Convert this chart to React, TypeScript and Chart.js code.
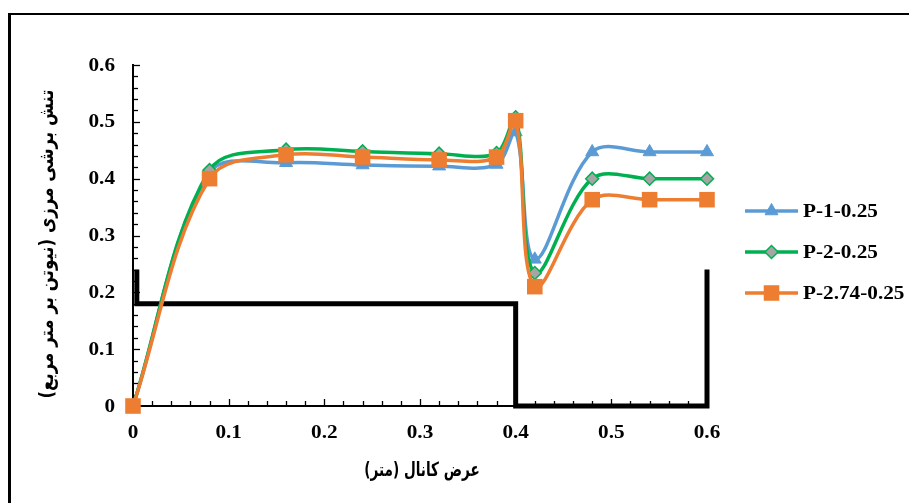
import React, { useEffect, useRef } from "react";
import { Chart, registerables } from "chart.js";

Chart.register(...registerables);

// ---- data ----
const xPositions = [0, 0.08, 0.16, 0.24, 0.32, 0.38, 0.4, 0.42, 0.48, 0.54, 0.6];
const seriesP1 = [0, 0.41, 0.428, 0.424, 0.422, 0.425, 0.482, 0.258, 0.447, 0.447, 0.447];
const seriesP2 = [0, 0.415, 0.451, 0.448, 0.444, 0.445, 0.508, 0.234, 0.4, 0.4, 0.4];
const seriesP274 = [0, 0.4, 0.442, 0.438, 0.433, 0.438, 0.502, 0.21, 0.363, 0.363, 0.363];
const profileX = [0.004, 0.004, 0.4, 0.4, 0.6, 0.6];
const profileY = [0.24, 0.18, 0.18, 0, 0, 0.24];
const seriesNames = ["P-1-0.25", "P-2-0.25", "P-2.74-0.25"];
const xTickValues = [0, 0.1, 0.2, 0.3, 0.4, 0.5, 0.6];
const xTickLabels = ["0", "0.1", "0.2", "0.3", "0.4", "0.5", "0.6"];
const yTickValues = [0, 0.1, 0.2, 0.3, 0.4, 0.5, 0.6];
const yTickLabels = ["0", "0.1", "0.2", "0.3", "0.4", "0.5", "0.6"];
const xTitle = "عرض کانال (متر)";
const yTitle = "تنش برشی مرزی (نیوتن بر متر مربع)";

const BLUE = "#5B9BD5";
const GREEN = "#00B050";
const ORANGE = "#ED7D31";
const GRAY = "#A5A5A5";
const SX = 1.18;
const LATIN_FONT = 'bold 18px "Liberation Serif", "Times New Roman", serif';
const ARABIC_FONT = 'bold 17px "DejaVu Sans", "Liberation Serif", serif';

function drawText(ctx: CanvasRenderingContext2D, s: string, x: number, y: number, align: CanvasTextAlign, font: string, sx: number) {
  ctx.save();
  ctx.translate(x, y);
  ctx.scale(sx, 1);
  ctx.font = font;
  ctx.fillStyle = "#000";
  ctx.textAlign = align;
  ctx.textBaseline = "middle";
  ctx.fillText(s, 0, 0);
  ctx.restore();
}

function drawMarker(ctx: CanvasRenderingContext2D, style: string, x: number, y: number, r: number, fill: string, stroke: string, bw: number) {
  ctx.save();
  ctx.beginPath();
  if (style === "triangle") {
    const h = r * 1.5;
    const half = r * Math.sqrt(3) / 2;
    ctx.moveTo(x, y - r);
    ctx.lineTo(x + half, y - r + h);
    ctx.lineTo(x - half, y - r + h);
    ctx.closePath();
  } else if (style === "rectRot") {
    ctx.moveTo(x, y - r);
    ctx.lineTo(x + r, y);
    ctx.lineTo(x, y + r);
    ctx.lineTo(x - r, y);
    ctx.closePath();
  } else {
    const s = r * Math.SQRT1_2;
    ctx.rect(x - s, y - s, 2 * s, 2 * s);
  }
  ctx.fillStyle = fill;
  ctx.fill();
  if (bw > 0) {
    ctx.lineWidth = bw;
    ctx.strokeStyle = stroke;
    ctx.stroke();
  }
  ctx.restore();
}

const decorPlugin = {
  id: "decor",
  beforeDatasetsDraw(chart: any) {
    const ctx: CanvasRenderingContext2D = chart.ctx;
    const xs = chart.scales.x;
    const ys = chart.scales.y;
    const area = chart.chartArea;
    ctx.save();
    // outer frame
    ctx.fillStyle = "#000";
    ctx.fillRect(8, 13, 3, 503);
    ctx.fillRect(8, 13, 909, 2);
    // inside ticks
    ctx.strokeStyle = "#000";
    ctx.lineWidth = 1.3;
    const isMajor = (v: number) => Math.abs(v * 10 - Math.round(v * 10)) < 1e-6;
    xs.ticks.forEach((t: any) => {
      const px = Math.round(xs.getPixelForValue(t.value)) + 0.5;
      const len = isMajor(t.value) ? 7 : 5;
      ctx.beginPath();
      ctx.moveTo(px, area.bottom);
      ctx.lineTo(px, area.bottom - len);
      ctx.stroke();
    });
    ys.ticks.forEach((t: any) => {
      const py = Math.round(ys.getPixelForValue(t.value)) + 0.5;
      const len = isMajor(t.value) ? 7 : 5;
      ctx.beginPath();
      ctx.moveTo(area.left, py);
      ctx.lineTo(area.left + len, py);
      ctx.stroke();
    });
    ctx.restore();
  },
  afterDraw(chart: any) {
    const ctx: CanvasRenderingContext2D = chart.ctx;
    const xs = chart.scales.x;
    const ys = chart.scales.y;
    // tick labels
    yTickValues.forEach((v, i) => {
      drawText(ctx, yTickLabels[i], 115, ys.getPixelForValue(v) + 1, "right", LATIN_FONT, SX);
    });
    xTickValues.forEach((v, i) => {
      drawText(ctx, xTickLabels[i], xs.getPixelForValue(v), 433, "center", LATIN_FONT, SX);
    });
    // legend
    const legendY = [211, 252, 293];
    const series = chart.data.datasets.filter((d: any) => d.isSeries);
    series.forEach((d: any, i: number) => {
      const y = legendY[i];
      ctx.save();
      ctx.strokeStyle = d.borderColor;
      ctx.lineWidth = d.borderWidth;
      ctx.beginPath();
      ctx.moveTo(745, y);
      ctx.lineTo(798, y);
      ctx.stroke();
      ctx.restore();
      drawMarker(ctx, d.pointStyle, 771.5, y, d.pointRadius, d.pointBackgroundColor, d.pointBorderColor, d.pointBorderWidth);
      drawText(ctx, d.label, 803, y + 1, "left", LATIN_FONT, SX);
    });
    // axis titles
    ctx.save();
    ctx.direction = "rtl";
    ctx.font = ARABIC_FONT;
    ctx.fillStyle = "#000";
    ctx.textAlign = "center";
    ctx.textBaseline = "middle";
    ctx.save();
    ctx.translate(422, 471);
    ctx.scale(0.8, 1.15);
    ctx.fillText(xTitle, 0, 0);
    ctx.restore();
    ctx.translate(48, 244);
    ctx.rotate(-Math.PI / 2);
    ctx.scale(0.98, 1.15);
    ctx.fillText(yTitle, 0, 0);
    ctx.restore();
  },
};

function makeSeries(label: string, values: number[], color: string, style: string, radius: number, fill: string, bw: number, order: number) {
  return {
    label,
    isSeries: true,
    data: xPositions.map((x, i) => ({ x, y: values[i] })),
    borderColor: color,
    backgroundColor: color,
    borderWidth: 3.5,
    pointStyle: style,
    pointRadius: radius,
    pointHoverRadius: radius,
    pointBackgroundColor: fill,
    pointBorderColor: color,
    pointBorderWidth: bw,
    tension: 0.35,
    fill: false,
    clip: false,
    order,
  };
}

export default function App() {
  const ref = useRef<HTMLCanvasElement | null>(null);
  useEffect(() => {
    if (!ref.current) return;
    const chart = new Chart(ref.current, {
      type: "line",
      data: {
        datasets: [
          makeSeries(seriesNames[0], seriesP1, BLUE, "triangle", 7.5, BLUE, 1, 3),
          makeSeries(seriesNames[1], seriesP2, GREEN, "rectRot", 6.5, GRAY, 1.5, 2),
          makeSeries(seriesNames[2], seriesP274, ORANGE, "rect", 11, ORANGE, 0, 1),
          {
            label: "profile",
            data: profileX.map((x, i) => ({ x, y: profileY[i] })),
            borderColor: "#000",
            backgroundColor: "#000",
            borderWidth: 5,
            pointRadius: 0,
            tension: 0,
            fill: false,
            clip: false,
            borderJoinStyle: "miter",
            order: 4,
          } as any,
        ],
      },
      options: {
        animation: false,
        responsive: true,
        maintainAspectRatio: false,
        layout: { padding: { left: 133, right: 202, top: 65, bottom: 97 } },
        plugins: { legend: { display: false }, tooltip: { enabled: false } },
        events: [],
        scales: {
          x: {
            type: "linear",
            min: 0,
            max: 0.6,
            ticks: { display: false, stepSize: 0.02, autoSkip: false },
            grid: { display: false },
            border: { display: true, color: "#000", width: 2 },
            afterFit: (s: any) => { s.height = 0; },
          },
          y: {
            type: "linear",
            min: 0,
            max: 0.6,
            ticks: { display: false, stepSize: 0.02, autoSkip: false },
            grid: { display: false },
            border: { display: true, color: "#000", width: 2 },
            afterFit: (s: any) => { s.width = 0; },
          },
        },
      } as any,
      plugins: [decorPlugin],
    });
    return () => chart.destroy();
  }, []);
  return (
    <div style={{ position: "absolute", left: 0, top: 0, width: 909, height: 503, background: "#fff" }}>
      <canvas ref={ref} />
    </div>
  );
}
